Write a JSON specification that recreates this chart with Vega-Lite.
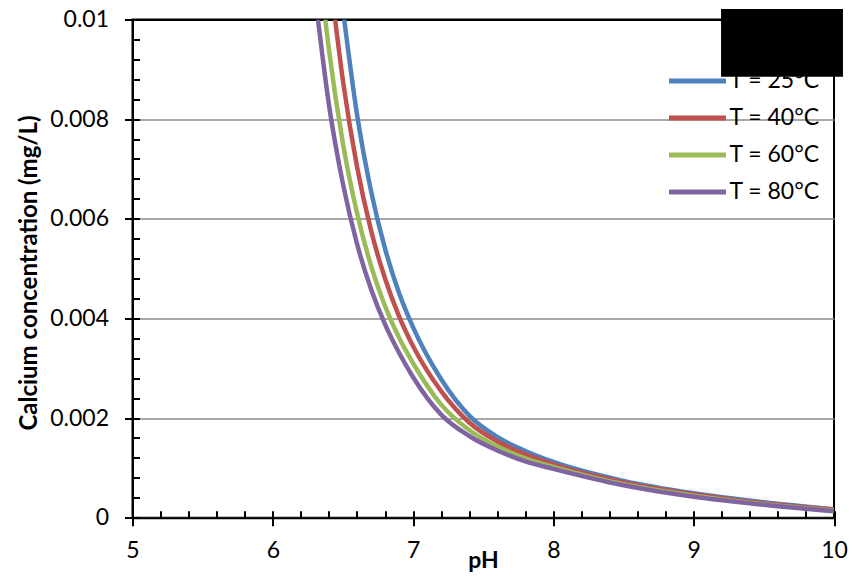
{
  "$schema": "https://vega.github.io/schema/vega-lite/v6.json",
  "width": 701.5,
  "height": 498.2,
  "autosize": {"type": "none"},
  "padding": {"left": 132.5, "top": 19.5, "right": 19, "bottom": 60.3},
  "background": "white",
  "config": {
    "view": {"stroke": "black", "strokeWidth": 2},
    "axis": {"labelFont": "Lato", "titleFont": "Lato", "labelColor": "black", "titleColor": "black"},
    "legend": {"labelFont": "Lato"}
  },
  "datasets": {
    "curves": [
      {"pH": 6.509, "c": 0.01, "series": "T = 25°C"},
      {"pH": 6.6, "c": 0.0081, "series": "T = 25°C"},
      {"pH": 6.7, "c": 0.00656, "series": "T = 25°C"},
      {"pH": 6.8, "c": 0.0054, "series": "T = 25°C"},
      {"pH": 6.9, "c": 0.00451, "series": "T = 25°C"},
      {"pH": 7.0, "c": 0.00382, "series": "T = 25°C"},
      {"pH": 7.2, "c": 0.00278, "series": "T = 25°C"},
      {"pH": 7.4, "c": 0.00205, "series": "T = 25°C"},
      {"pH": 7.6, "c": 0.00162, "series": "T = 25°C"},
      {"pH": 7.8, "c": 0.00134, "series": "T = 25°C"},
      {"pH": 8.0, "c": 0.00112, "series": "T = 25°C"},
      {"pH": 8.5, "c": 0.00074, "series": "T = 25°C"},
      {"pH": 9.0, "c": 0.00049, "series": "T = 25°C"},
      {"pH": 9.5, "c": 0.00031, "series": "T = 25°C"},
      {"pH": 10.0, "c": 0.00017, "series": "T = 25°C"},
      {"pH": 6.444, "c": 0.01, "series": "T = 40°C"},
      {"pH": 6.5, "c": 0.00877, "series": "T = 40°C"},
      {"pH": 6.6, "c": 0.00705, "series": "T = 40°C"},
      {"pH": 6.7, "c": 0.00577, "series": "T = 40°C"},
      {"pH": 6.8, "c": 0.0048, "series": "T = 40°C"},
      {"pH": 6.9, "c": 0.00404, "series": "T = 40°C"},
      {"pH": 7.0, "c": 0.00344, "series": "T = 40°C"},
      {"pH": 7.2, "c": 0.00254, "series": "T = 40°C"},
      {"pH": 7.4, "c": 0.00191, "series": "T = 40°C"},
      {"pH": 7.6, "c": 0.00153, "series": "T = 40°C"},
      {"pH": 7.8, "c": 0.00127, "series": "T = 40°C"},
      {"pH": 8.0, "c": 0.00107, "series": "T = 40°C"},
      {"pH": 8.5, "c": 0.00071, "series": "T = 40°C"},
      {"pH": 9.0, "c": 0.00047, "series": "T = 40°C"},
      {"pH": 9.5, "c": 0.00029, "series": "T = 40°C"},
      {"pH": 10.0, "c": 0.00016, "series": "T = 40°C"},
      {"pH": 6.374, "c": 0.01, "series": "T = 60°C"},
      {"pH": 6.4, "c": 0.0094, "series": "T = 60°C"},
      {"pH": 6.5, "c": 0.00751, "series": "T = 60°C"},
      {"pH": 6.6, "c": 0.00612, "series": "T = 60°C"},
      {"pH": 6.7, "c": 0.00506, "series": "T = 60°C"},
      {"pH": 6.8, "c": 0.00425, "series": "T = 60°C"},
      {"pH": 6.9, "c": 0.00361, "series": "T = 60°C"},
      {"pH": 7.0, "c": 0.0031, "series": "T = 60°C"},
      {"pH": 7.2, "c": 0.00227, "series": "T = 60°C"},
      {"pH": 7.4, "c": 0.00176, "series": "T = 60°C"},
      {"pH": 7.6, "c": 0.00143, "series": "T = 60°C"},
      {"pH": 7.8, "c": 0.00119, "series": "T = 60°C"},
      {"pH": 8.0, "c": 0.00102, "series": "T = 60°C"},
      {"pH": 8.5, "c": 0.00067, "series": "T = 60°C"},
      {"pH": 9.0, "c": 0.00044, "series": "T = 60°C"},
      {"pH": 9.5, "c": 0.00027, "series": "T = 60°C"},
      {"pH": 10.0, "c": 0.00014, "series": "T = 60°C"},
      {"pH": 6.322, "c": 0.01, "series": "T = 80°C"},
      {"pH": 6.4, "c": 0.00829, "series": "T = 80°C"},
      {"pH": 6.5, "c": 0.0067, "series": "T = 80°C"},
      {"pH": 6.6, "c": 0.0055, "series": "T = 80°C"},
      {"pH": 6.7, "c": 0.00459, "series": "T = 80°C"},
      {"pH": 6.8, "c": 0.00388, "series": "T = 80°C"},
      {"pH": 6.9, "c": 0.00331, "series": "T = 80°C"},
      {"pH": 7.0, "c": 0.00282, "series": "T = 80°C"},
      {"pH": 7.2, "c": 0.00207, "series": "T = 80°C"},
      {"pH": 7.4, "c": 0.00164, "series": "T = 80°C"},
      {"pH": 7.6, "c": 0.00135, "series": "T = 80°C"},
      {"pH": 7.8, "c": 0.00113, "series": "T = 80°C"},
      {"pH": 8.0, "c": 0.00098, "series": "T = 80°C"},
      {"pH": 8.5, "c": 0.00065, "series": "T = 80°C"},
      {"pH": 9.0, "c": 0.00042, "series": "T = 80°C"},
      {"pH": 9.5, "c": 0.00026, "series": "T = 80°C"},
      {"pH": 10.0, "c": 0.00013, "series": "T = 80°C"}
    ],
    "box": [
      {"x1": 9.195, "x2": 10.064, "y1": 0.010211, "y2": 0.008852}
    ]
  },
  "layer": [
    {
      "data": {"name": "curves"},
      "mark": {"type": "line", "interpolate": "monotone", "strokeWidth": 4.5, "clip": true},
      "encoding": {
        "x": {
          "field": "pH", "type": "quantitative",
          "scale": {"domain": [5, 10], "nice": false, "zero": false},
          "axis": {
            "title": "pH", "values": [5, 6, 7, 8, 9, 10],
            "tickSize": 8, "tickWidth": 2, "tickColor": "black",
            "domainColor": "black", "domainWidth": 2, "grid": false,
            "labelFontSize": 23, "labelPadding": 14, "labelFlush": false, "labelOverlap": false,
            "titleFontSize": 23, "titleFontWeight": "bold",
            "titleX": 350.5, "titleY": 49.6, "titleBaseline": "alphabetic", "titleAlign": "center"
          }
        },
        "y": {
          "field": "c", "type": "quantitative",
          "scale": {"domain": [0, 0.01], "nice": false, "zero": false},
          "axis": {
            "title": "Calcium concentration (mg/L)",
            "values": [0, 0.002, 0.004, 0.006, 0.008, 0.01], "format": "~g",
            "tickSize": 8, "tickWidth": 2, "tickColor": "black",
            "domainColor": "black", "domainWidth": 2,
            "grid": true,
            "gridColor": {"condition": {"test": "datum.value >= 0.0099", "value": "black"}, "value": "#8a8a8a"},
            "gridWidth": {"condition": {"test": "datum.value >= 0.0099", "value": 2}, "value": 1.6},
            "labelFontSize": 23, "labelPadding": 16, "labelFlush": false, "labelOverlap": false,
            "titleFontSize": 24, "titleFontWeight": "bold",
            "titleX": -96.5, "titleY": 253, "titleAngle": -90, "titleBaseline": "alphabetic", "titleAlign": "center"
          }
        },
        "color": {
          "field": "series", "type": "nominal",
          "scale": {
            "domain": ["T = 25°C", "T = 40°C", "T = 60°C", "T = 80°C"],
            "range": ["#4F81BD", "#C0504D", "#9BBB59", "#8064A2"]
          },
          "legend": {
            "title": null, "orient": "none", "legendX": 553, "legendY": 49.5, "padding": 0,
            "symbolType": "M-3,0H3", "symbolSize": 361, "symbolStrokeWidth": 5,
            "labelOffset": 20, "labelFontSize": 23, "labelColor": "black", "rowPadding": 13
          }
        }
      }
    },
    {
      "data": {"name": "box"},
      "mark": {"type": "rect", "color": "black", "clip": false},
      "encoding": {
        "x": {
          "field": "x1", "type": "quantitative",
          "scale": {"domain": [5, 10], "nice": false, "zero": false},
          "axis": {
            "orient": "bottom", "title": null, "labels": false, "domain": false, "grid": false,
            "values": [5, 5.2, 5.4, 5.6, 5.8, 6, 6.2, 6.4, 6.6, 6.8, 7, 7.2, 7.4, 7.6, 7.8, 8, 8.2, 8.4, 8.6, 8.8, 9, 9.2, 9.4, 9.6, 9.8, 10],
            "tickSize": -7, "tickWidth": 2, "tickColor": "black"
          }
        },
        "x2": {"field": "x2"},
        "y": {
          "field": "y1", "type": "quantitative",
          "scale": {"domain": [0, 0.01], "nice": false, "zero": false},
          "axis": {
            "orient": "left", "title": null, "labels": false, "domain": false, "grid": false,
            "values": [0, 0.0004, 0.0008, 0.0012, 0.0016, 0.002, 0.0024, 0.0028, 0.0032, 0.0036, 0.004, 0.0044, 0.0048, 0.0052, 0.0056, 0.006, 0.0064, 0.0068, 0.0072, 0.0076, 0.008, 0.0084, 0.0088, 0.0092, 0.0096, 0.01],
            "tickSize": -7, "tickWidth": 2, "tickColor": "black"
          }
        },
        "y2": {"field": "y2"}
      }
    }
  ],
  "resolve": {"axis": {"x": "independent", "y": "independent"}}
}
